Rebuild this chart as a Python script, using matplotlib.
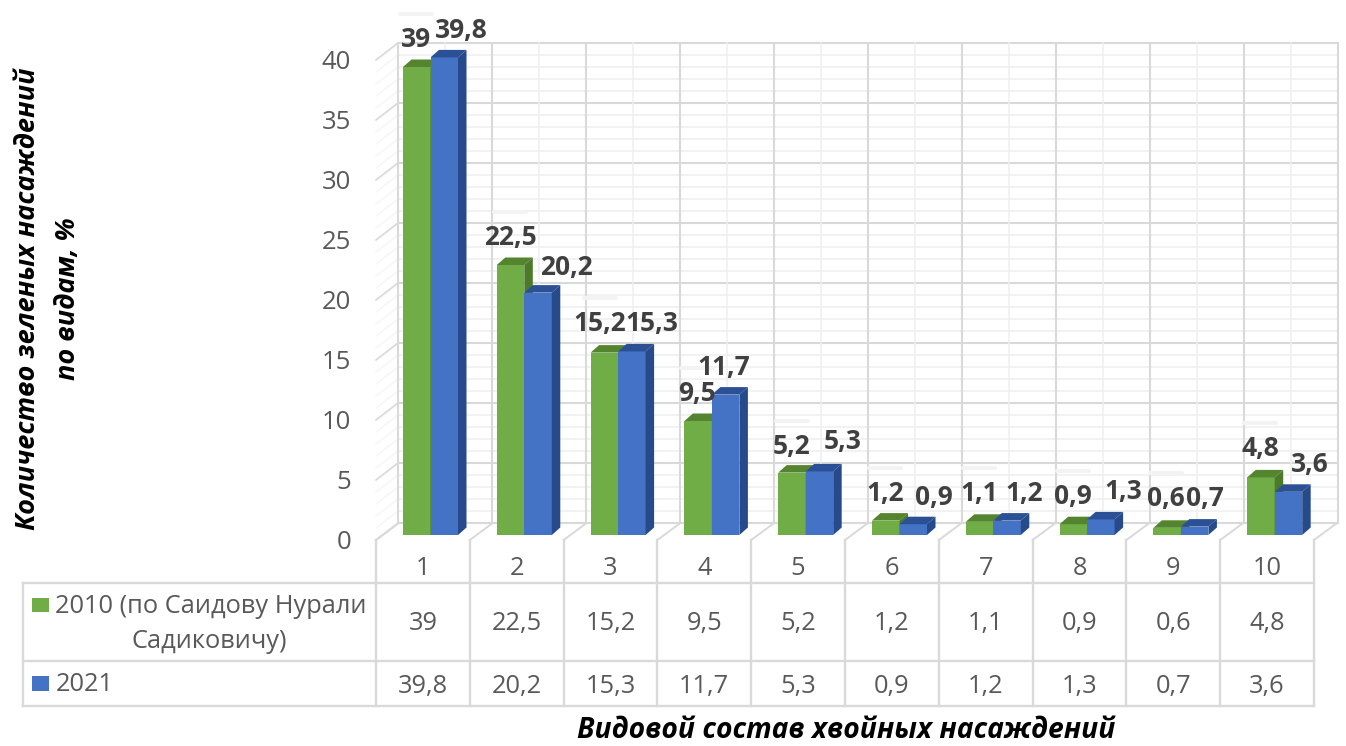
import matplotlib
matplotlib.use("Agg")
import matplotlib.pyplot as plt
import numpy as np

categories = ["1", "2", "3", "4", "5", "6", "7", "8", "9", "10"]
series_2010 = [39, 22.5, 15.2, 9.5, 5.2, 1.2, 1.1, 0.9, 0.6, 4.8]
series_2021 = [39.8, 20.2, 15.3, 11.7, 5.3, 0.9, 1.2, 1.3, 0.7, 3.6]
labels_2010 = ["39", "22,5", "15,2", "9,5", "5,2", "1,2", "1,1", "0,9", "0,6", "4,8"]
labels_2021 = ["39,8", "20,2", "15,3", "11,7", "5,3", "0,9", "1,2", "1,3", "0,7", "3,6"]
y_ticks = [0, 5, 10, 15, 20, 25, 30, 35, 40]
legend_2010 = ["2010 (по Саидову Нурали", "Садиковичу)"]
legend_2021 = "2021"
y_title = ["Количество зеленых насаждений", "по видам, %"]
x_title = "Видовой состав хвойных насаждений"

# label centres in pixels (layout only)
pos_2010 = [(416, 38), (510, 236), (600, 322), (697, 392), (792, 445), (885, 492), (979, 492), (1073, 495), (1166, 497), (1260, 447)]
pos_2021 = [(461, 29), (566, 266), (652, 322), (724, 366), (843, 440), (934, 496), (1024, 492), (1123, 490), (1205, 497), (1310, 463)]

W, H = 1346, 746
FONT = "Open Sans"
GREEN, GREEN_TOP, GREEN_SIDE = "#70AD47", "#55842F", "#4C7A2A"
BLUE, BLUE_TOP, BLUE_SIDE = "#4472C4", "#2B5096", "#264A8A"
GRID, GRID_MINOR, TXT, LBL = "#D9D9D9", "#EFEFEF", "#595959", "#404040"
TF = 18.3   # table text size
YS = 2.5    # vertical optical shift of centred text

fig = plt.figure(figsize=(W / 100, H / 100), dpi=100, facecolor="white")

# pixel overlay for the chart furniture
pa = fig.add_axes([0, 0, 1, 1], zorder=1)
pa.set_xlim(0, W); pa.set_ylim(H, 0); pa.axis("off")

X0, CW, PXU = 376.0, 93.8, 12.0
WX0, WX1, WY0 = 398.0, 1338.0, 523.0

def wall_y(v):
    return WY0 - v * PXU

# minor and major wall grid
for v in range(0, 41):
    major = v % 5 == 0
    y = wall_y(v)
    pa.plot([WX0, WX1], [y, y], color=GRID if major else GRID_MINOR, lw=1.5 if major else 1.1, zorder=1)
    pa.plot([X0, WX0], [y + 17, y], color=GRID if major else "#F5F5F5", lw=1.2 if major else 1.0, zorder=1)
for i in range(21):
    x = WX0 + i * (WX1 - WX0) / 20
    major = i % 2 == 0
    pa.plot([x, x], [wall_y(40), WY0], color=GRID if major else GRID_MINOR, lw=1.5 if major else 1.1, zorder=1)

# table grid
edges = [X0 + i * CW for i in range(11)]
for i, x in enumerate(edges):
    pa.plot([x, x], [540, 706], color=GRID, lw=1.7, zorder=2)
    pa.plot([x, x + 23], [540, 523], color=GRID, lw=1.4, zorder=2)
for y in (583, 661, 706):
    pa.plot([23, edges[-1]], [y, y], color=GRID, lw=1.7, zorder=2)
pa.plot([23, 23], [583, 706], color=GRID, lw=1.7, zorder=2)

# y tick labels
for v in y_ticks:
    pa.text(351, 540 - v * PXU + YS, str(v), ha="right", va="center", fontsize=18.5, color=TXT, family=FONT, zorder=5)

# table text
for i, c in enumerate(categories):
    cx = X0 + (i + 0.5) * CW
    pa.text(cx, 566 + YS, c, ha="center", va="center", fontsize=TF, color=TXT, family=FONT)
    pa.text(cx, 621 + YS, labels_2010[i], ha="center", va="center", fontsize=TF, color=TXT, family=FONT)
    pa.text(cx, 684 + YS, labels_2021[i], ha="center", va="center", fontsize=TF, color=TXT, family=FONT)

pa.fill([32, 49, 49, 32], [598, 598, 612, 612], color=GREEN, lw=0)
pa.fill([32, 49, 49, 32], [676, 676, 691, 691], color=BLUE, lw=0)
pa.text(55, 604 + YS, legend_2010[0], ha="left", va="center", fontsize=TF, color=TXT, family=FONT)
pa.text(209, 639 + YS, legend_2010[1], ha="center", va="center", fontsize=TF, color=TXT, family=FONT)
pa.text(56, 682 + YS, legend_2021, ha="left", va="center", fontsize=TF, color=TXT, family=FONT)

# axis titles
pa.text(28, 299, y_title[0], rotation=90, ha="center", va="center", fontsize=19.5, fontweight="bold", style="italic", color="black", family=FONT)
pa.text(68, 299, y_title[1], rotation=90, ha="center", va="center", fontsize=19.5, fontweight="bold", style="italic", color="black", family=FONT)
pa.text(846, 731, x_title, ha="center", va="center", fontsize=20.3, fontweight="bold", style="italic", color="black", family=FONT)

# bars: axes whose x is category position and y the value
BASE_PX, TOP_PX = 535.0, 535.0 - 40 * PXU
ax = fig.add_axes([X0 / W, 1 - BASE_PX / H, 10 * CW / W, (BASE_PX - TOP_PX) / H], zorder=2)
ax.set_xlim(0, 10); ax.set_ylim(0, 40); ax.axis("off")
ax.patch.set_alpha(0)

BW = 27.5 / CW
DX, DY = 8.5 / CW, 7.5 / PXU
LEFT = (403 - X0) / CW

def bar3d(xs, vals, front, top, side, z):
    ax.bar(xs, vals, width=BW, align="edge", color=front, lw=0, zorder=z, clip_on=False)
    for x, v in zip(xs, vals):
        ax.fill([x, x + BW, x + BW + DX, x + DX], [v, v, v + DY, v + DY], color=top, lw=0, zorder=z, clip_on=False)
        ax.fill([x + BW, x + BW + DX, x + BW + DX, x + BW], [0, DY, v + DY, v], color=side, lw=0, zorder=z, clip_on=False)

idx = np.arange(len(categories))
bar3d(idx + LEFT, series_2010, GREEN, GREEN_TOP, GREEN_SIDE, 3)
bar3d(idx + LEFT + BW, series_2021, BLUE, BLUE_TOP, BLUE_SIDE, 4)

# data labels (topmost layer)
ta = fig.add_axes([0, 0, 1, 1], zorder=3)
ta.set_xlim(0, W); ta.set_ylim(H, 0); ta.axis("off"); ta.patch.set_alpha(0)
for (x, y) in pos_2010:
    ta.plot([x - 16, x + 16], [y - 24, y - 24], color="#F3F3F3", lw=3, solid_capstyle="round", zorder=1)
for t, (x, y) in zip(labels_2010, pos_2010):
    ta.text(x, y + 1.5, t, ha="center", va="center", fontsize=19, fontweight="bold", color=LBL, family=FONT, zorder=3)
for t, (x, y) in zip(labels_2021, pos_2021):
    ta.text(x, y + 1.5, t, ha="center", va="center", fontsize=19, fontweight="bold", color=LBL, family=FONT, zorder=3)

fig.savefig("out.png", dpi=100, facecolor="white")
